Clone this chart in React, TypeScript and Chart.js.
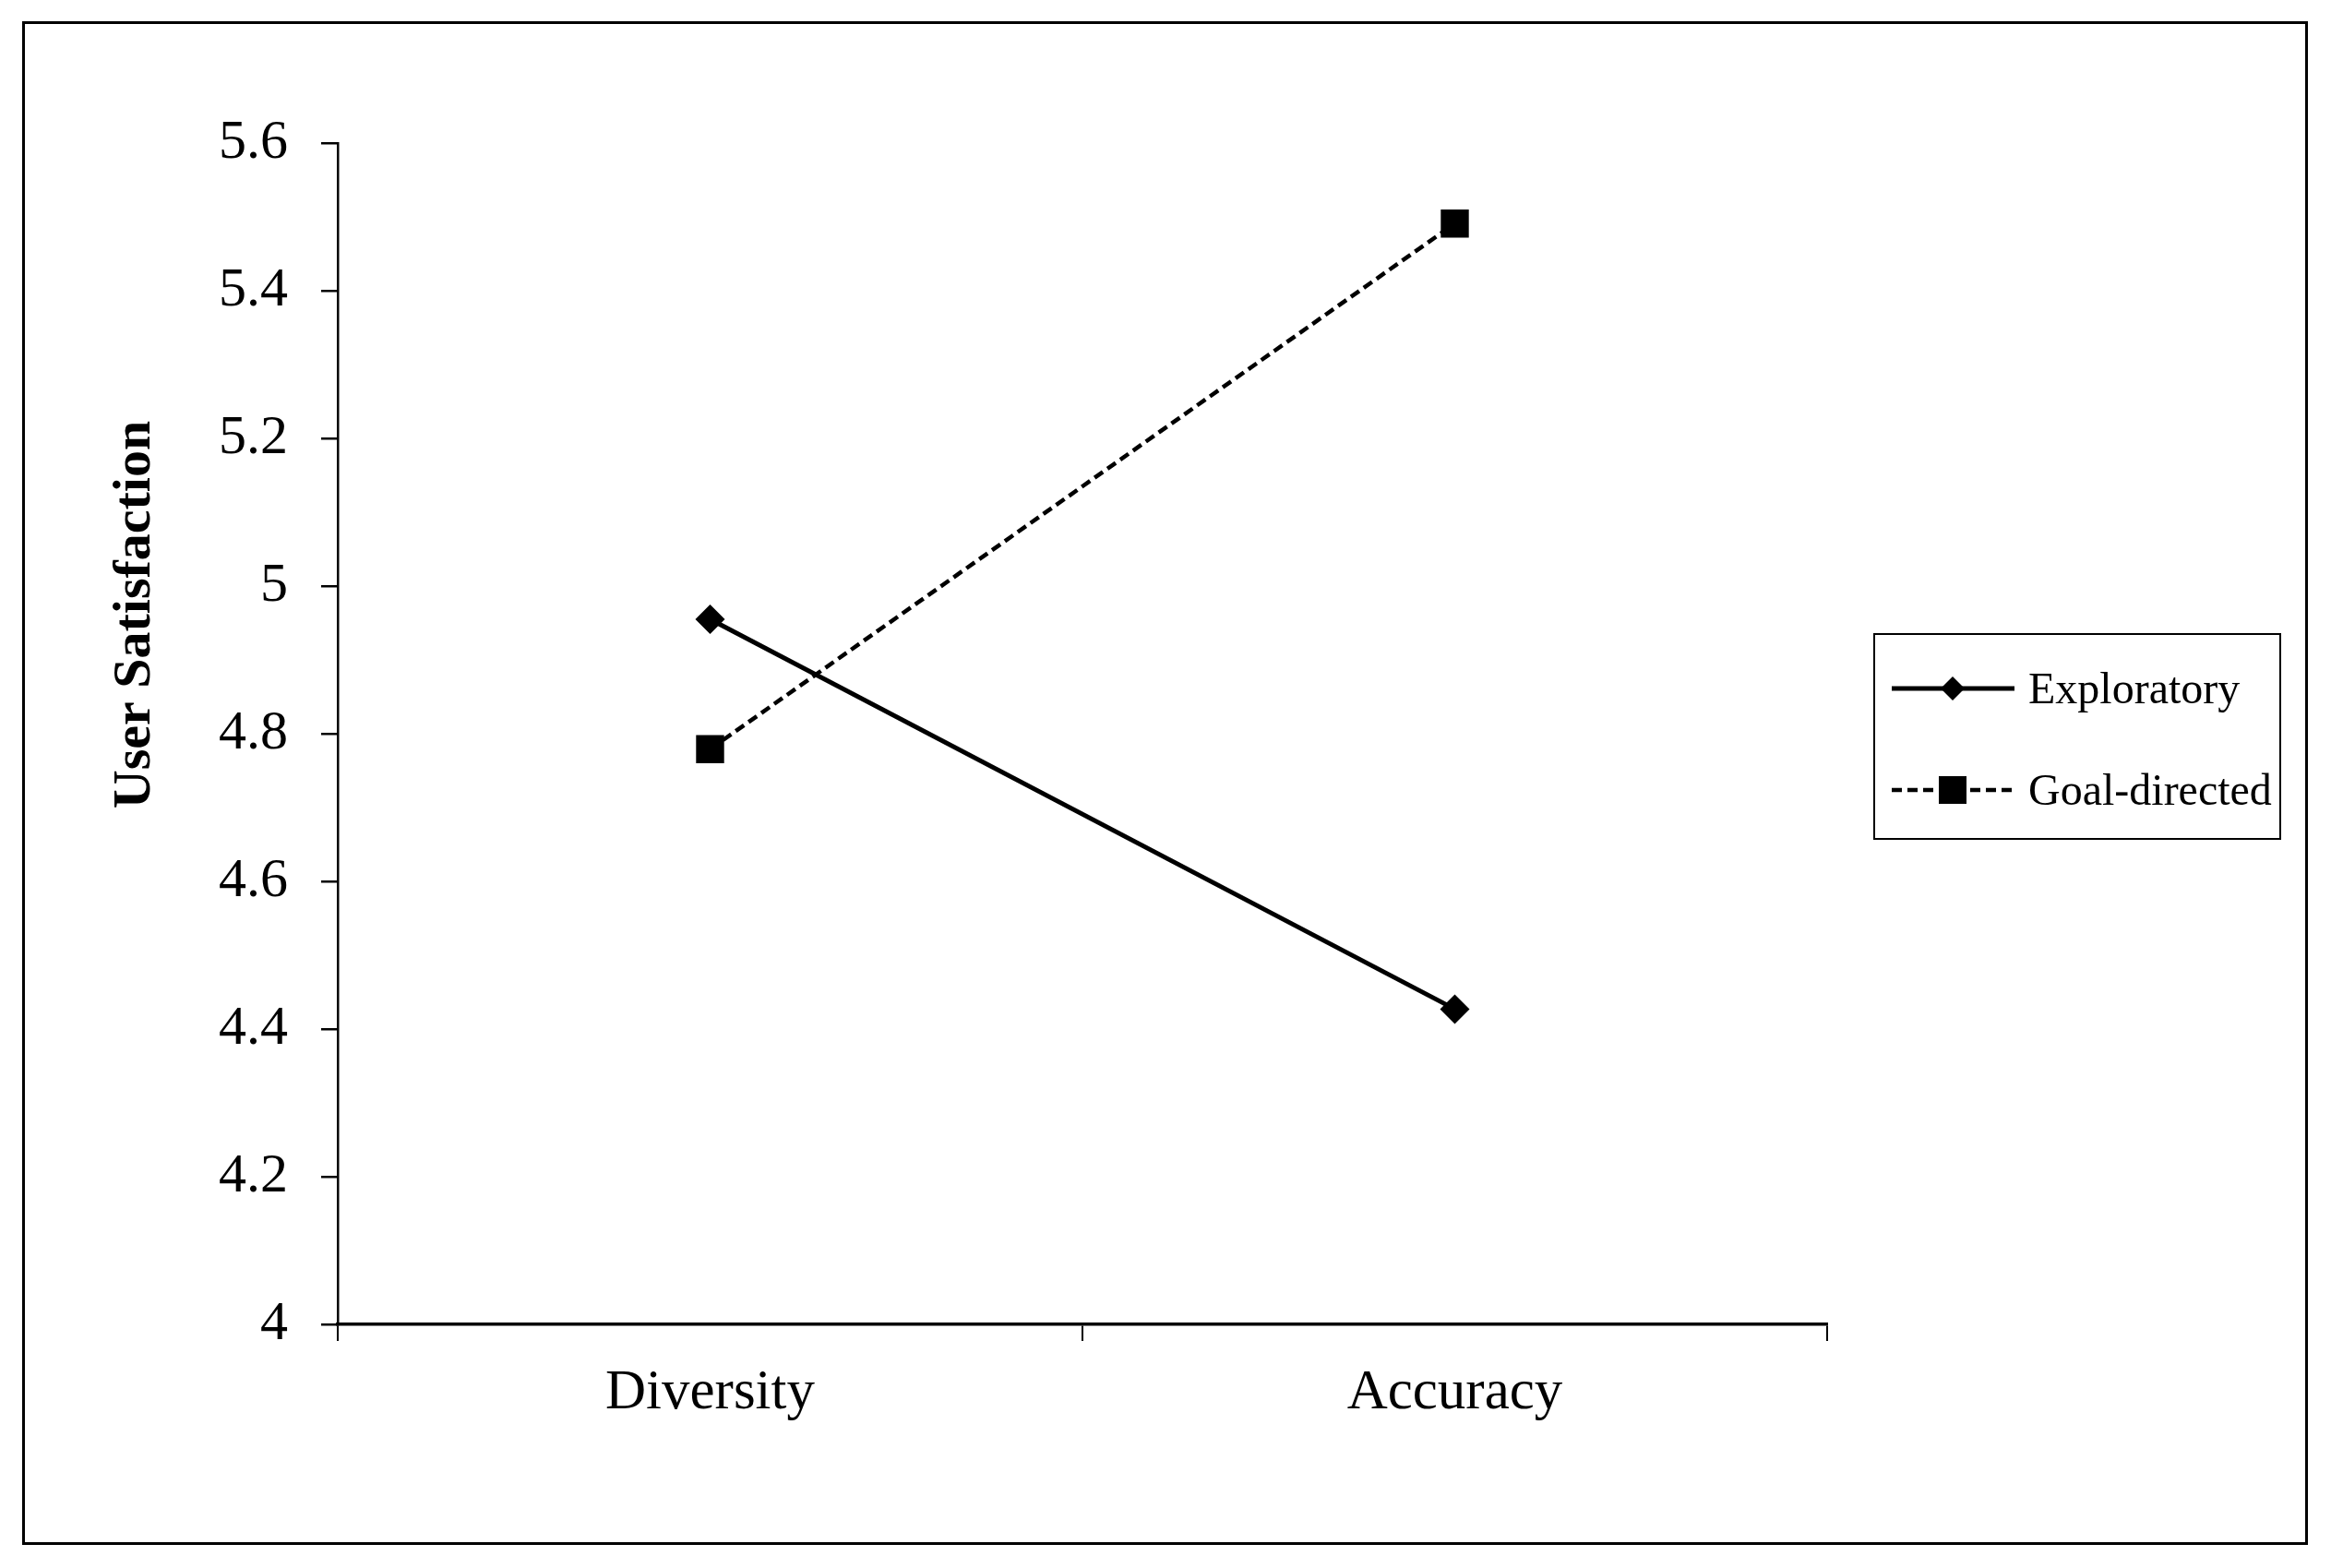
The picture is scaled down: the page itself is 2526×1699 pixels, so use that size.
import React, { useEffect, useRef } from "react";
import { Chart, registerables } from "chart.js";

Chart.register(...registerables);

// ---- data ----
const categories = ["Diversity", "Accuracy"];
const seriesLabels = ["Exploratory", "Goal-directed"];
const exploratory = [4.955, 4.427];
const goalDirected = [4.779, 5.491];
const yTicks = [4, 4.2, 4.4, 4.6, 4.8, 5, 5.2, 5.4, 5.6];
const yTitle = "User Satisfaction";

const W = 2526;
const H = 1699;
const FONT = '"Liberation Serif", "Times New Roman", serif';

const decor = {
  id: "decor",
  beforeDraw(chart: any) {
    const ctx = chart.ctx;
    ctx.save();
    ctx.fillStyle = "#fff";
    ctx.fillRect(0, 0, chart.width, chart.height);
    ctx.restore();
  },
  afterDraw(chart: any) {
    const ctx = chart.ctx;
    ctx.save();
    // outer frame
    ctx.strokeStyle = "#000";
    ctx.lineWidth = 3;
    ctx.strokeRect(25.5, 24.5, 2474, 1648);

    // y title
    ctx.save();
    ctx.translate(162, 666);
    ctx.rotate(-Math.PI / 2);
    ctx.font = `bold 58px ${FONT}`;
    ctx.fillStyle = "#000";
    ctx.textAlign = "center";
    ctx.textBaseline = "alphabetic";
    ctx.fillText(yTitle, 0, 0);
    ctx.restore();

    // legend box
    ctx.lineWidth = 2;
    ctx.strokeRect(2031, 687, 440, 222);
    const dsets = chart.data.datasets;
    dsets.forEach((ds: any, i: number) => {
      const y = 746 + i * 110;
      ctx.save();
      ctx.strokeStyle = "#000";
      ctx.lineWidth = ds.borderWidth;
      ctx.setLineDash(ds.borderDash || []);
      ctx.beginPath();
      ctx.moveTo(2050, y);
      ctx.lineTo(2183, y);
      ctx.stroke();
      ctx.setLineDash([]);
      ctx.fillStyle = "#000";
      const cx = 2116;
      ctx.beginPath();
      if (ds.pointStyle === "rectRot") {
        const r = 13;
        ctx.moveTo(cx, y - r);
        ctx.lineTo(cx + r, y);
        ctx.lineTo(cx, y + r);
        ctx.lineTo(cx - r, y);
        ctx.closePath();
      } else {
        const h = 15;
        ctx.rect(cx - h, y - h, 2 * h, 2 * h);
      }
      ctx.fill();
      ctx.font = `48px ${FONT}`;
      ctx.textAlign = "left";
      ctx.textBaseline = "alphabetic";
      ctx.fillText(ds.label, 2198, y + 16);
      ctx.restore();
    });
    ctx.restore();
  },
};

export default function App() {
  const ref = useRef<HTMLCanvasElement | null>(null);

  useEffect(() => {
    document.body.style.margin = "0";
    const canvas = ref.current;
    if (!canvas) return;
    const chart = new Chart(canvas, {
      type: "line",
      data: {
        labels: categories,
        datasets: [
          {
            label: seriesLabels[0],
            data: exploratory,
            borderColor: "#000",
            backgroundColor: "#000",
            borderWidth: 5,
            pointStyle: "rectRot",
            pointRadius: 16,
            pointBorderWidth: 0,
            pointBackgroundColor: "#000",
            tension: 0,
          },
          {
            label: seriesLabels[1],
            data: goalDirected,
            borderColor: "#000",
            backgroundColor: "#000",
            borderWidth: 4.5,
            borderDash: [11, 6],
            pointStyle: "rect",
            pointRadius: 21.5,
            pointBorderWidth: 0,
            pointBackgroundColor: "#000",
            tension: 0,
          },
        ],
      },
      options: {
        responsive: false,
        animation: false,
        devicePixelRatio: 1,
        layout: { padding: { top: 155, right: 546, bottom: 0, left: 0 } },
        plugins: {
          legend: { display: false },
          tooltip: { enabled: false },
        },
        scales: {
          x: {
            type: "category",
            offset: true,
            grid: {
              offset: true,
              drawOnChartArea: false,
              drawTicks: true,
              tickLength: 18,
              color: "#000",
              lineWidth: 2,
            },
            border: { display: true, color: "#000", width: 3.5 },
            ticks: {
              color: "#000",
              font: { family: FONT, size: 61 },
              padding: 20,
              maxRotation: 0,
            },
            afterFit: (s: any) => {
              s.height = 264;
            },
          },
          y: {
            min: 4,
            max: 5.6,
            afterBuildTicks: (s: any) => {
              s.ticks = yTicks.map((v) => ({ value: v }));
            },
            grid: {
              drawOnChartArea: false,
              tickLength: 18,
              color: "#000",
              lineWidth: 2.5,
            },
            border: { display: true, color: "#000", width: 2.5 },
            ticks: {
              color: "#000",
              font: { family: FONT, size: 60 },
              padding: 36,
              callback: (v: any) => String(Number(Number(v).toFixed(1))),
            },
            afterFit: (s: any) => {
              s.width = 366;
            },
          },
        },
      },
      plugins: [decor],
    });
    return () => chart.destroy();
  }, []);

  return (
    <div style={{ position: "absolute", left: 0, top: 0, width: W, height: H, background: "#fff" }}>
      <canvas ref={ref} width={W} height={H} style={{ display: "block", width: W, height: H }} />
    </div>
  );
}
